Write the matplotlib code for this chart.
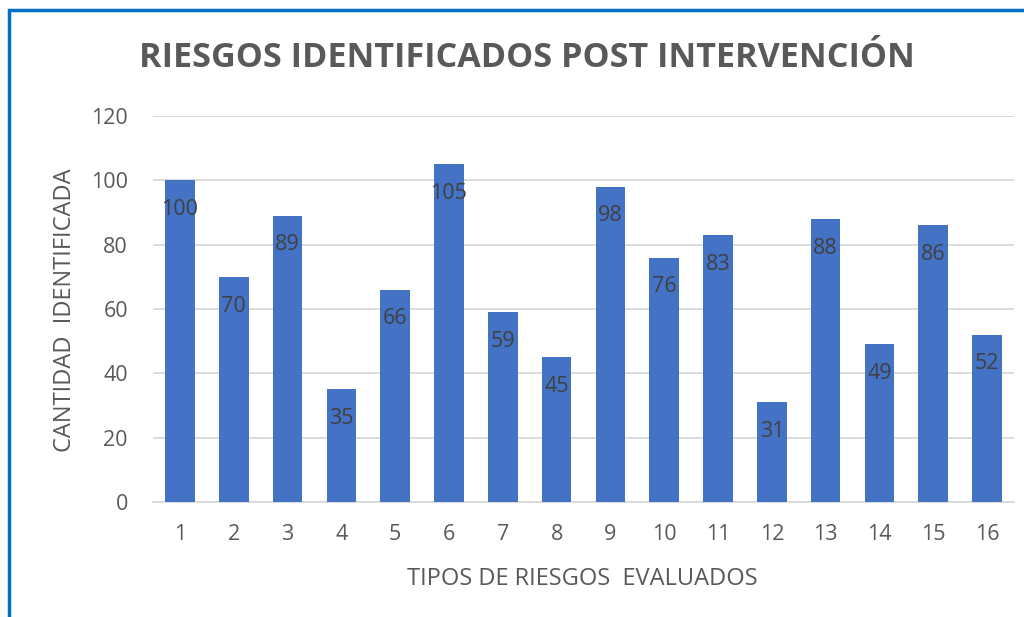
import matplotlib
matplotlib.use('Agg')
import matplotlib.pyplot as plt
from matplotlib.patches import Rectangle

# datos
tipos = [str(i) for i in range(1, 17)]
cantidades = [100, 70, 89, 35, 66, 105, 59, 45, 98, 76, 83, 31, 88, 49, 86, 52]
yticks = [0, 20, 40, 60, 80, 100, 120]

azulBarra = '#4472C4'
gris = '#595959'
rejilla = '#D9D9D9'

plt.rcParams['font.family'] = ['Open Sans', 'DejaVu Sans']

fig = plt.figure(figsize=(10.24, 6.17), dpi=100)
ax = fig.add_axes([153/1024, 1 - 502/617, (1014 - 153)/1024, (502 - 116)/617])

pos = list(range(len(tipos)))
barras = ax.bar(pos, cantidades, width=0.55, color=azulBarra, zorder=3)

for b, v in zip(barras, cantidades):
    ax.annotate(str(v), (b.get_x() + b.get_width()/2, v), xytext=(0, -21),
                textcoords='offset points', ha='center', va='center',
                fontsize=15.5, color='#404040', zorder=4)

ax.set_xlim(-0.5, len(tipos) - 0.5)
ax.set_ylim(0, 120)
ax.set_yticks(yticks)
ax.set_xticks(pos)
ax.set_xticklabels(tipos)
ax.grid(axis='y', color=rejilla, linewidth=1.3, zorder=0)
for s in ['top', 'right', 'left']:
    ax.spines[s].set_visible(False)
ax.spines['bottom'].set_color(rejilla)
ax.spines['bottom'].set_linewidth(1.3)
ax.tick_params(length=0, colors=gris, labelsize=15.5)
ax.tick_params(axis='y', pad=18)
ax.tick_params(axis='x', pad=16)

fig.text(65/1024, 1 - 310/617, 'CANTIDAD  IDENTIFICADA', rotation=90,
         ha='center', va='center', fontsize=17, color=gris)
fig.text(582/1024, 1 - 579/617, 'TIPOS DE RIESGOS  EVALUADOS',
         ha='center', va='center', fontsize=17, color=gris)
fig.text(527/1024, 1 - 58/617, 'RIESGOS IDENTIFICADOS POST INTERVENCIÓN',
         ha='center', va='center', fontsize=24.6, fontweight='bold', color=gris)

# marco azul
fig.add_artist(Rectangle((9/1024, -0.05), 1.05, 1 - 10/617 + 0.05,
                         transform=fig.transFigure, fill=False,
                         edgecolor='#0070C0', linewidth=2.5))

fig.savefig('out.png', dpi=100)
